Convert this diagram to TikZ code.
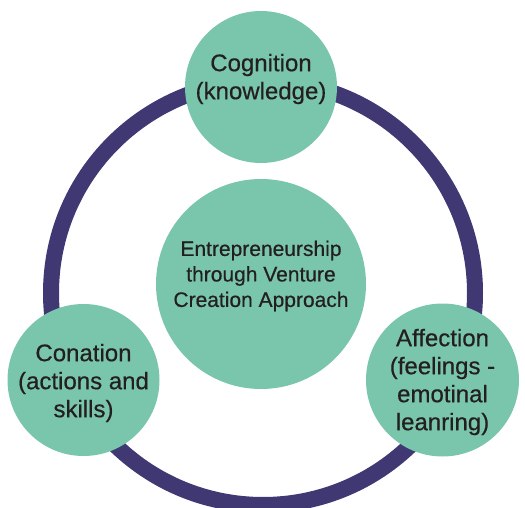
\documentclass[tikz,border=0pt]{standalone}
\usepackage{fontspec}
\setmainfont[UprightFeatures={FakeBold=0.5}]{Liberation Sans}

\definecolor{mint}{HTML}{7AC6AD}
\definecolor{ringblue}{HTML}{3F3873}
\definecolor{inkgray}{HTML}{231F20}

\begin{document}
\begin{tikzpicture}[x=1pt, y=-1pt,
    bubble/.style={circle, fill=mint, inner sep=0pt, minimum size=#1},
    caption/.style={align=center, text=inkgray, font=\fontsize{24}{28}\selectfont},
    small caption/.style={align=center, text=inkgray, font=\fontsize{21}{25.5}\selectfont}]

    % constants
    \def\rring{212}
    \useasboundingbox (0,0) rectangle (525,508);

    % outer ring
    \coordinate (hub) at (263,293);
    \draw[color=ringblue, line width=16pt] (hub) circle [radius=\rring];

    % circles
    \node[bubble=152pt] (cog) at (261,87) {};
    \node[bubble=210pt] (ent) at (261,284) {};
    \node[bubble=152pt] (con) at (83.5,380) {};
    \node[bubble=153pt] (aff) at (442.5,380) {};

    % labels
    \node[caption] (cogtext) at ([yshift=8pt]cog.center) {Cognition\\(knowledge)};
    \node[small caption] (enttext) at ([yshift=8pt]ent.center) {Entrepreneurship\\through Venture\\Creation Approach};
    \node[caption] (context) at ([yshift=-3pt]con.center) {Conation\\(actions and\\skills)};
    \node[caption] (afftext) at ([yshift=-2pt]aff.center) {Affection\\(feelings -\\emotinal\\leanring)};

\end{tikzpicture}
\end{document}
